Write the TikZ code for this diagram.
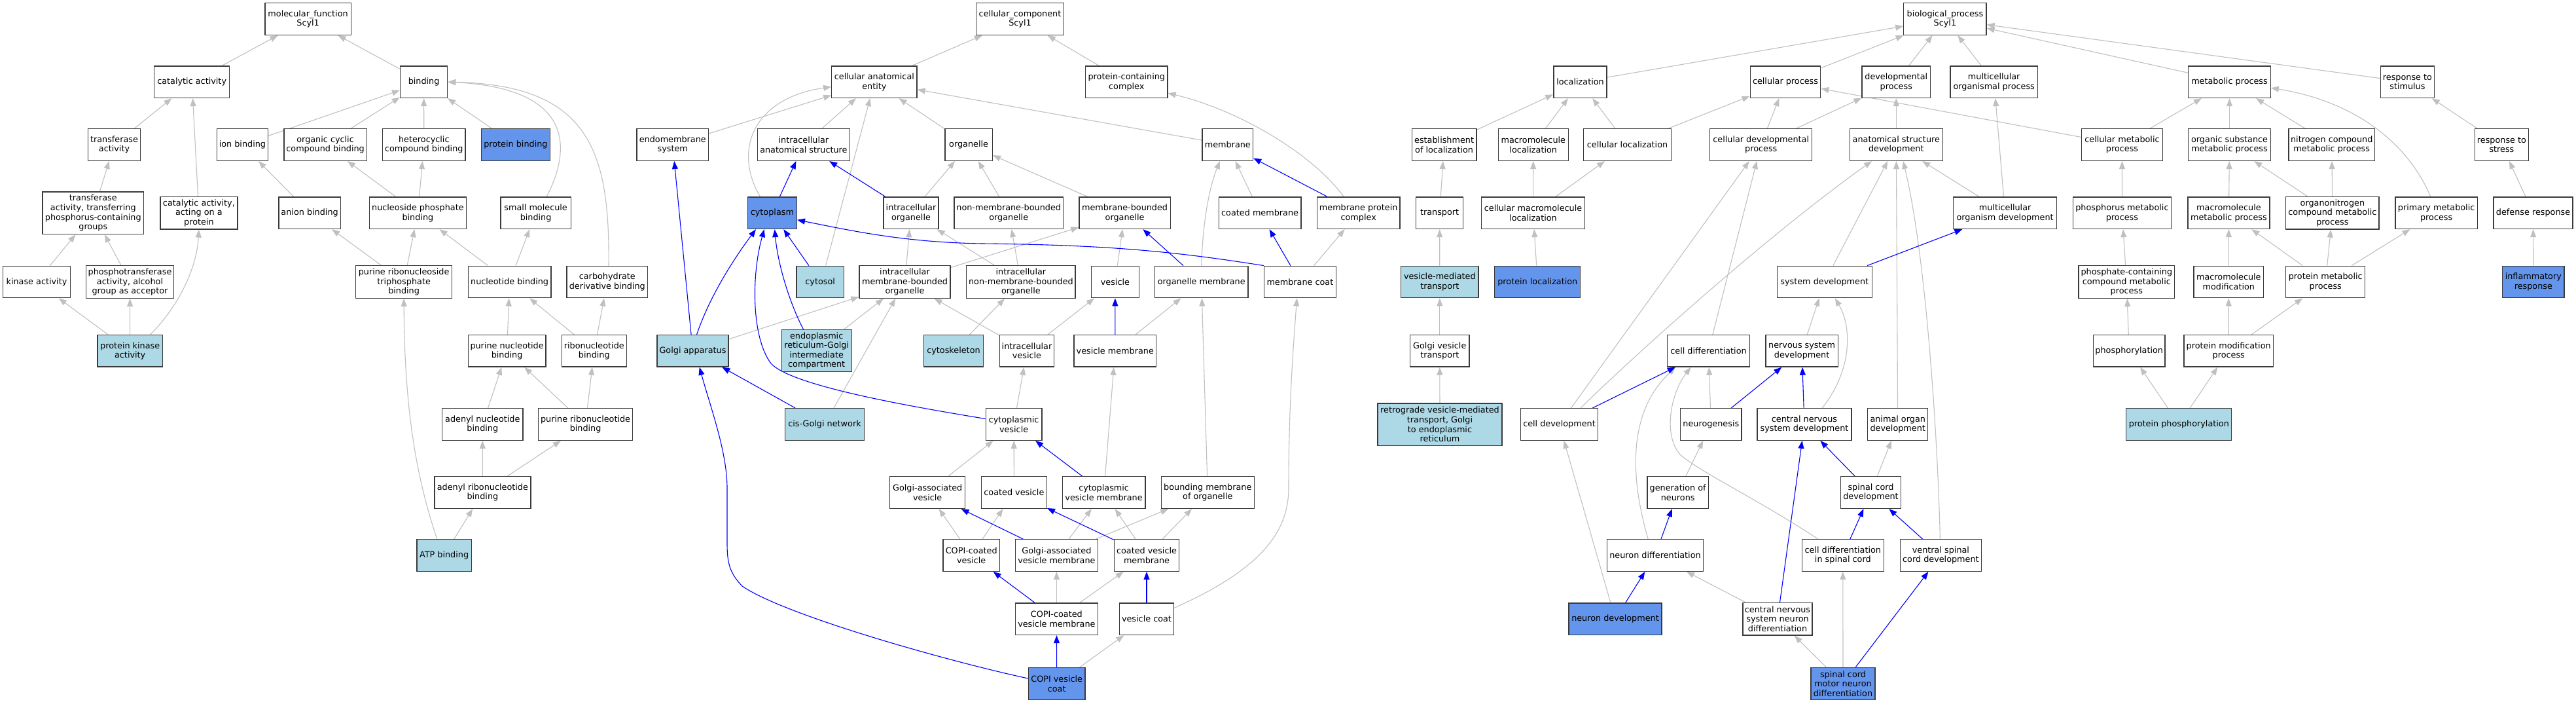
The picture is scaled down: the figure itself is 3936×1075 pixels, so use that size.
\documentclass[tikz,border=0pt]{standalone}
\usepackage{fontspec}
\setmainfont{DejaVu Sans}
\usetikzlibrary{arrows.meta}
\definecolor{lbfill}{HTML}{ADD8E6}
\definecolor{cbfill}{HTML}{6495ED}
\definecolor{edgegray}{HTML}{C0C0C0}
\definecolor{edgeblue}{HTML}{0000FF}
\definecolor{bordercol}{HTML}{3A3A3A}
\newcommand\nodefnt{\fontsize{12.8}{14.6}\selectfont}
\pgfdeclarelayer{bgfill}
\pgfdeclarelayer{edges}
\pgfsetlayers{bgfill,edges,main}
\begin{document}
\begin{tikzpicture}[x=1pt,y=-1pt,
  gobox/.style={draw=bordercol, line width=1.3pt, fill=white, inner sep=0pt, minimum height=48.6pt, align=center, font=\nodefnt},
  golb/.style={gobox, fill=lbfill},
  gocb/.style={gobox, fill=cbfill},
  gotall/.style={minimum height=64.4pt},
  gomid/.style={minimum height=49.6pt},
  gedge/.style={draw=edgegray, line width=1.1pt, -{Triangle[length=12pt,width=9pt]}},
  bedge/.style={draw=edgeblue, line width=1.1pt, -{Triangle[length=12pt,width=9pt]}},
]
\begin{pgfonlayer}{bgfill}
\fill[white] (0,0) rectangle (3936,1075);
\end{pgfonlayer}
\useasboundingbox (0,0) rectangle (3936,1075);

% ---------------- molecular function ----------------
\node[gobox, minimum width=131.3pt] (mf) at (470.6,29.1) {molecular\_function\\Scyl1};
\node[gobox, minimum width=114.9pt] (catact) at (293.2,125.2) {catalytic activity};
\node[gobox, minimum width=72.1pt] (binding) at (647.6,125.2) {binding};
\node[gobox, minimum width=80.4pt] (transf) at (174.5,221.1) {transferase\\activity};
\node[gobox, minimum width=78.3pt] (ionb) at (370.4,221.1) {ion binding};
\node[gobox, minimum width=126.3pt] (occb) at (497.1,221.1) {organic cyclic\\compound binding};
\node[gobox, minimum width=126.4pt] (hcb) at (647.8,221.1) {heterocyclic\\compound binding};
\node[gocb, minimum width=104.8pt] (protb) at (787.9,221.1) {protein binding};
\node[gobox, gotall, minimum width=154.9pt] (ttp) at (142.3,325.3) {transferase\\activity, transferring\\phosphorus-containing\\groups};
\node[gobox, gomid, minimum width=117.9pt] (cap) at (303.9,325.2) {catalytic activity,\\acting on a\\protein};
\node[gobox, minimum width=94.3pt] (anionb) at (473.1,325.2) {anion binding};
\node[gobox, minimum width=148pt] (npb) at (638.4,325.2) {nucleoside phosphate\\binding};
\node[gobox, minimum width=107.3pt] (smb) at (818.6,325.2) {small molecule\\binding};
\node[gobox, minimum width=102.7pt] (kinase) at (56,430.5) {kinase activity};
\node[gobox, gomid, minimum width=134.3pt] (phosph) at (198.5,430.5) {phosphotransferase\\activity, alcohol\\group as acceptor};
\node[gobox, gomid, minimum width=147.4pt] (prtb) at (617.1,430.5) {purine ribonucleoside\\triphosphate\\binding};
\node[gobox, minimum width=126.7pt] (nb) at (778.6,430.5) {nucleotide binding};
\node[gobox, minimum width=123.8pt] (cdb) at (927.8,430.5) {carbohydrate\\derivative binding};
\node[golb, minimum width=99.3pt] (pka) at (198.7,535.8) {protein kinase\\activity};
\node[gobox, minimum width=118.7pt] (pnb) at (774.6,535.8) {purine nucleotide\\binding};
\node[gobox, minimum width=99pt] (rnb) at (907.8,535.8) {ribonucleotide\\binding};
\node[gobox, minimum width=123.3pt] (anb) at (737.3,648) {adenyl nucleotide\\binding};
\node[gobox, minimum width=143.9pt] (prnb) at (894.6,648) {purine ribonucleotide\\binding};
\node[gobox, minimum width=146.9pt] (arnb) at (737.4,752.1) {adenyl ribonucleotide\\binding};
\node[golb, minimum width=83.5pt] (atp) at (678.6,848) {ATP binding};

% ---------------- cellular component ----------------
\node[gobox, minimum width=133.9pt] (cc) at (1558.5,29.1) {cellular\_component\\Scyl1};
\node[gobox, minimum width=130.2pt] (cae) at (1335.9,125.2) {cellular anatomical\\entity};
\node[gobox, minimum width=125.4pt] (pcc) at (1721.3,125.2) {protein-containing\\complex};
\node[gobox, minimum width=109.9pt] (endo) at (1027.8,221.1) {endomembrane\\system};
\node[gobox, minimum width=141.4pt] (ias) at (1227.9,221.1) {intracellular\\anatomical structure};
\node[gobox, minimum width=72.4pt] (organelle) at (1480.1,221.1) {organelle};
\node[gobox, minimum width=77.4pt] (membrane) at (1875.8,221.1) {membrane};
\node[gocb, minimum width=74.9pt] (cytoplasm) at (1179.9,325.2) {cytoplasm};
\node[gobox, minimum width=83.8pt] (io) at (1392,325.2) {intracellular\\organelle};
\node[gobox, minimum width=166.7pt] (nmbo) at (1541.2,325.2) {non-membrane-bounded\\organelle};
\node[gobox, minimum width=139.3pt] (mbo) at (1718.6,325.2) {membrane-bounded\\organelle};
\node[gobox, minimum width=125.6pt] (cm) at (1925.1,325.2) {coated membrane};
\node[gobox, minimum width=126.7pt] (mpc) at (2075.7,325.2) {membrane protein\\complex};
\node[golb, minimum width=72.4pt] (cytosol) at (1253.2,430.5) {cytosol};
\node[gobox, gomid, minimum width=139pt] (imbo) at (1382.5,430.5) {intracellular\\membrane-bounded\\organelle};
\node[gobox, gomid, minimum width=166.3pt] (inmbo) at (1559.9,430.5) {intracellular\\non-membrane-bounded\\organelle};
\node[gobox, minimum width=72.8pt] (vesicle) at (1703.9,430.5) {vesicle};
\node[gobox, minimum width=142.7pt] (om) at (1835.7,430.5) {organelle membrane};
\node[gobox, minimum width=110pt] (mc) at (1986.4,430.5) {membrane coat};
\node[golb, minimum width=109pt] (golgi) at (1058.5,535.8) {Golgi apparatus};
\node[golb, minimum width=107pt, minimum height=64pt] (ergic) at (1247.7,535.5) {endoplasmic\\reticulum-Golgi\\intermediate\\compartment};
\node[golb, minimum width=91pt] (cytosk) at (1457,535.8) {cytoskeleton};
\node[gobox, minimum width=83.3pt] (iv) at (1569,535.8) {intracellular\\vesicle};
\node[gobox, minimum width=125.9pt] (vm) at (1703.8,535.8) {vesicle membrane};
\node[golb, minimum width=120.5pt] (cgn) at (1260,648) {cis-Golgi network};
\node[gobox, minimum width=85.9pt] (cv) at (1549.1,648) {cytoplasmic\\vesicle};
\node[gobox, minimum width=114.9pt] (gav) at (1417.2,752.1) {Golgi-associated\\vesicle};
\node[gobox, minimum width=99.8pt] (coatv) at (1549.4,752.1) {coated vesicle};
\node[gobox, minimum width=126.7pt] (cvm) at (1686.6,752.1) {cytoplasmic\\vesicle membrane};
\node[gobox, minimum width=141.8pt] (bmo) at (1845.3,752.1) {bounding membrane\\of organelle};
\node[gobox, minimum width=86.3pt] (copicv) at (1484.2,848) {COPI-coated\\vesicle};
\node[gobox, minimum width=126.3pt] (gavm) at (1614.4,848) {Golgi-associated\\vesicle membrane};
\node[gobox, minimum width=99.3pt] (coatvm) at (1752,848) {coated vesicle\\membrane};
\node[gobox, minimum width=126.3pt] (copicvm) at (1614.4,945.2) {COPI-coated\\vesicle membrane};
\node[gobox, minimum width=83.3pt] (vcoat) at (1752,945.2) {vesicle coat};
\node[gocb, minimum width=86.3pt] (copivc) at (1614.7,1044) {COPI vesicle\\coat};

% ---------------- biological process ----------------
\node[gobox, minimum width=126.2pt] (bp) at (2971.9,29.1) {biological\_process\\Scyl1};
\node[gobox, minimum width=81.2pt] (loc) at (2414.5,125.2) {localization};
\node[gobox, minimum width=107.5pt] (cp) at (2728,125.2) {cellular process};
\node[gobox, minimum width=104.5pt] (dp) at (2897.3,125.2) {developmental\\process};
\node[gobox, minimum width=133.6pt] (mop) at (3046.7,125.2) {multicellular\\organismal process};
\node[gobox, minimum width=125.4pt] (mp) at (3406.5,125.2) {metabolic process};
\node[gobox, minimum width=82.5pt] (rts) at (3678.4,125.2) {response to\\stimulus};
\node[gobox, minimum width=98.9pt] (eol) at (2206.6,221.1) {establishment\\of localization};
\node[gobox, minimum width=107pt] (ml) at (2342.8,221.1) {macromolecule\\localization};
\node[gobox, minimum width=133.4pt] (cl) at (2486.5,221.1) {cellular localization};
\node[gobox, minimum width=156.1pt] (cdp) at (2690.7,221.1) {cellular developmental\\process};
\node[gobox, minimum width=141.8pt] (asd) at (2897.3,221.1) {anatomical structure\\development};
\node[gobox, minimum width=123.5pt] (cmp) at (3242.5,221.1) {cellular metabolic\\process};
\node[gobox, minimum width=125.4pt] (osmp) at (3406.5,221.1) {organic substance\\metabolic process};
\node[gobox, minimum width=131.3pt] (ncmp) at (3562.7,221.1) {nitrogen compound\\metabolic process};
\node[gobox, minimum width=82.5pt] (rtstress) at (3822.4,221.1) {response to\\stress};
\node[gobox, minimum width=72.4pt] (transport) at (2199.6,325.2) {transport};
\node[gobox, minimum width=157.8pt] (cml) at (2342.5,325.2) {cellular macromolecule\\localization};
\node[gobox, minimum width=157.9pt] (mod) at (3063.6,325.2) {multicellular\\organism development};
\node[gobox, minimum width=150.5pt] (phmp) at (3242.4,325.2) {phosphorus metabolic\\process};
\node[gobox, minimum width=125pt] (mmp) at (3405.4,325.2) {macromolecule\\metabolic process};
\node[gobox, gomid, minimum width=142.2pt] (oncmp) at (3563.9,325.2) {organonitrogen\\compound metabolic\\process};
\node[gobox, minimum width=125.4pt] (primmp) at (3722.6,325.2) {primary metabolic\\process};
\node[gobox, minimum width=120.8pt] (dr) at (3870.5,325.2) {defense response};
\node[golb, minimum width=118.3pt] (vmt) at (2199.8,430.5) {vesicle-mediated\\transport};
\node[gocb, minimum width=131pt] (pl) at (2349.3,430.5) {protein localization};
\node[gobox, minimum width=144.8pt] (sd) at (2787.8,430.5) {system development};
\node[gobox, gomid, minimum width=146.8pt] (pccmp) at (3249.3,430.5) {phosphate-containing\\compound metabolic\\process};
\node[gobox, minimum width=106.9pt] (mm) at (3405.3,430.5) {macromolecule\\modification};
\node[gobox, minimum width=120.8pt] (pmp) at (3553.2,430.5) {protein metabolic\\process};
\node[gocb, minimum width=94.3pt] (ir) at (3870.8,430.5) {inflammatory\\response};
\node[gobox, minimum width=90.5pt] (gvt) at (2199.8,535.8) {Golgi vesicle\\transport};
\node[gobox, minimum width=125.6pt] (cd) at (2610.5,535.8) {cell differentiation};
\node[gobox, minimum width=110.2pt] (nsd) at (2753.1,535.8) {nervous system\\development};
\node[gobox, minimum width=109.5pt] (phos) at (3253.2,535.8) {phosphorylation};
\node[gobox, minimum width=136.4pt] (pmod) at (3405.2,535.8) {protein modification\\process};
\node[golb, minimum width=190.2pt, minimum height=64.3pt] (retro) at (2200,648) {retrograde vesicle-mediated\\transport, Golgi\\to endoplasmic\\reticulum};
\node[gobox, minimum width=118.3pt] (cdev) at (2382.5,648) {cell development};
\node[gobox, minimum width=93.6pt] (neurog) at (2614.3,648) {neurogenesis};
\node[gobox, minimum width=144pt] (cnsd) at (2757,648) {central nervous\\system development};
\node[gobox, minimum width=91.9pt] (aod) at (2899.7,648) {animal organ\\development};
\node[golb, minimum width=161pt] (pp) at (3329.3,648) {protein phosphorylation};
\node[gobox, minimum width=93.4pt] (gon) at (2563.7,752.1) {generation of\\neurons};
\node[gobox, minimum width=91.9pt] (scd) at (2858.5,752.1) {spinal cord\\development};
\node[gobox, minimum width=146.9pt] (ndiff) at (2529,848) {neuron differentiation};
\node[gobox, minimum width=125.3pt] (cdisc) at (2815.8,848) {cell differentiation\\in spinal cord};
\node[gobox, minimum width=123.6pt] (vscd) at (2965.4,848) {ventral spinal\\cord development};
\node[gocb, minimum width=141.9pt] (nd) at (2468,945.2) {neuron development};
\node[gobox, gomid, minimum width=106.2pt] (cnsnd) at (2716,945.2) {central nervous\\system neuron\\differentiation};
\node[gocb, gomid, minimum width=98pt] (scmnd) at (2816,1044) {spinal cord\\motor neuron\\differentiation};

\begin{pgfonlayer}{edges}
% ---- MF edges
\foreach \a/\b in {catact/mf, binding/mf, transf/catact, cap/catact, ttp/transf, kinase/ttp, phosph/ttp, pka/kinase, pka/phosph, ionb/binding, occb/binding, hcb/binding, protb/binding, anionb/ionb, npb/occb, npb/hcb, prtb/anionb, prtb/npb, nb/npb, nb/smb, pnb/nb, rnb/nb, rnb/cdb, anb/pnb, prnb/pnb, prnb/rnb, arnb/anb, arnb/prnb, atp/arnb}
  \draw[gedge] (\a) -- (\b);
\draw[gedge] ([xshift=30.7pt]pka.north) .. controls (262,480) and (300,420) .. (cap.south);
\draw[gedge] ([xshift=16.6pt]smb.north) .. controls (872,230) and (880,135) .. (binding.east);
\draw[gedge] ([xshift=2.2pt]cdb.north) .. controls (932,230) and (900,130) .. (binding.east);
\draw[gedge] ([xshift=-10.9pt]atp.north) .. controls (640,740) and (618,640) .. (prtb.south);

% ---- CC edges
\foreach \a/\b in {cae/cc, pcc/cc, endo/cae, ias/cae, organelle/cae, membrane/cae, io/organelle, nmbo/organelle, mbo/organelle, imbo/io, imbo/mbo, inmbo/io, inmbo/nmbo, vesicle/mbo, cm/membrane, mc/mpc, golgi/imbo, ergic/imbo, cgn/imbo, cytosk/inmbo, iv/vesicle, iv/imbo, vm/om, cv/iv, cvm/vm, bmo/om, gav/cv, coatv/cv, copicv/gav, copicv/coatv, gavm/cvm, gavm/bmo, coatvm/cvm, coatvm/bmo, copicvm/gavm, copicvm/coatvm, copivc/vcoat}
  \draw[gedge] (\a) -- (\b);
\draw[gedge] ([xshift=8.4pt]cytosol.north) -- ([xshift=-6.4pt]cae.south);
\draw[gedge] ([xshift=-18.5pt]cytoplasm.north) .. controls (1120,230) and (1150,150) .. ([yshift=-7.4pt]cae.west);
\draw[gedge] (om.north) .. controls (1838,330) and (1850,280) .. ([xshift=-11.8pt]membrane.south);
\draw[gedge] ([xshift=-22.7pt]mpc.north) .. controls (2010,240) and (1900,170) .. ([yshift=-17pt]pcc.east);
\draw[gedge] ([yshift=17pt]vcoat.east) .. controls (1930,868) and (1969,810) .. (1969,745) .. controls (1969,620) and (1976,530) .. ([xshift=-4.8pt]mc.south);

\foreach \a/\b in {cytoplasm/ias, io/ias, cytosol/cytoplasm, om/mbo, mpc/membrane, mc/cm, golgi/endo, cgn/golgi, vm/vesicle, cvm/cv, gavm/gav, coatvm/coatv, copicvm/copicv, vcoat/coatvm, copivc/copicvm}
  \draw[bedge] (\a) -- (\b);
\draw[bedge] ([xshift=6.1pt]golgi.north) .. controls (1085,450) and (1125,390) .. ([xshift=-24.9pt]cytoplasm.south);
\draw[bedge] ([xshift=-20.2pt]ergic.north) .. controls (1205,460) and (1188,400) .. ([xshift=3.8pt]cytoplasm.south);
\draw[bedge] ([yshift=8.5pt]cv.west) .. controls (1400,622) and (1210,590) .. (1178,555) .. controls (1148,515) and (1148,420) .. ([xshift=-12.2pt]cytoplasm.south);
\draw[bedge] (mc.north west) .. controls (1800,385) and (1700,374) .. (1500,372) .. controls (1380,370) and (1300,352) .. ([yshift=-10.6pt]cytoplasm.east);
\draw[bedge] ([yshift=8pt]copivc.west) .. controls (1450,1010) and (1200,940) .. (1134,895) .. controls (1115,875) and (1111,860) .. (1111,830) -- (1111,745) .. controls (1111,690) and (1085,620) .. ([xshift=10.3pt]golgi.south);

% ---- BP edges
\foreach \a/\b in {loc/bp, cp/bp, dp/bp, mop/bp, mp/bp, rts/bp, eol/loc, ml/loc, cl/loc, cl/cp, transport/eol, cml/ml, cml/cl, vmt/transport, pl/cml, gvt/vmt, retro/gvt, cdp/cp, cdp/dp, asd/dp, mod/mop, mod/asd, cmp/cp, cmp/mp, sd/asd, cd/cdp, cdev/cdp, nd/cdev, gon/neurog, neurog/cd, nsd/sd, aod/asd, scd/aod, cnsnd/ndiff, scmnd/cnsnd, scmnd/cdisc, osmp/mp, ncmp/mp, phmp/cmp, mmp/osmp, oncmp/osmp, oncmp/ncmp, pccmp/phmp, mm/mmp, pmp/mmp, pmp/oncmp, pmp/primmp, phos/pccmp, pmod/mm, pmod/pmp, pp/phos, pp/pmod, rtstress/rts, dr/rtstress, ir/dr}
  \draw[gedge] (\a) -- (\b);
\draw[gedge] ([xshift=32.5pt]cdev.north) .. controls (2500,540) and (2700,360) .. ([xshift=-37.3pt]asd.south);
\draw[gedge] ([xshift=-10.8pt]ndiff.north) .. controls (2500,760) and (2475,640) .. ([xshift=-50.2pt]cd.south);
\draw[gedge] ([xshift=-38pt]cdisc.north) .. controls (2690,765) and (2600,722) .. (2568,695) .. controls (2540,665) and (2553,600) .. ([xshift=-27pt]cd.south);
\draw[gedge] ([xshift=27.3pt]cnsd.north) .. controls (2830,565) and (2830,500) .. ([xshift=16pt]sd.south);
\draw[gedge] ([xshift=-1.1pt]vscd.north) .. controls (2962,700) and (2945,400) .. ([xshift=10.6pt]asd.south);
\draw[gedge] ([xshift=-8.9pt]primmp.north) .. controls (3680,220) and (3600,155) .. ([yshift=-9.1pt]mp.east);

\foreach \a/\b in {sd/mod, cdev/cd, nd/ndiff, ndiff/gon, neurog/nsd, cnsd/nsd, scd/cnsd, cdisc/scd, vscd/scd, cnsnd/cnsd, scmnd/vscd}
  \draw[bedge] (\a) -- (\b);
\end{pgfonlayer}
\end{tikzpicture}
\end{document}
